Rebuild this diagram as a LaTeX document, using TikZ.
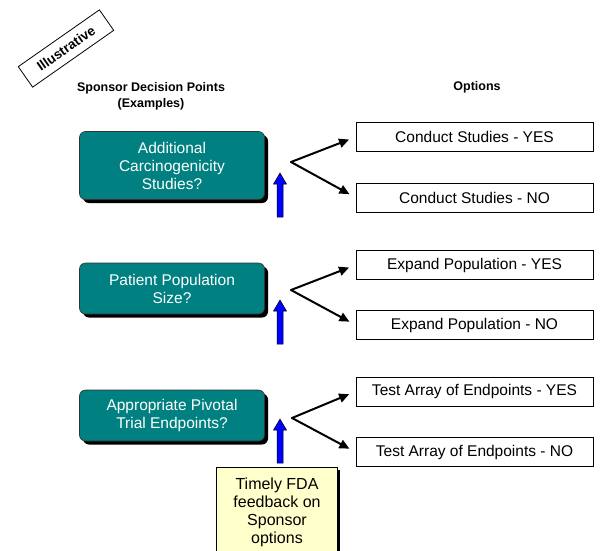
\documentclass[tikz,border=0pt]{standalone}
\usepackage{fontspec}
\setmainfont{Liberation Sans}
\usetikzlibrary{arrows.meta,shadows}
\definecolor{tealbox}{RGB}{0,128,128}
\definecolor{notebg}{RGB}{255,255,204}
\begin{document}
\begin{tikzpicture}[x=1pt,y=-1pt,
  decision/.style={draw=black!80, line width=0.6pt, fill=tealbox, rounded corners=6pt,
    minimum width=185pt, text=white, align=center,
    font=\fontsize{15.5}{18}\selectfont,
    drop shadow={shadow xshift=3.5pt, shadow yshift=-3.5pt, fill=black, opacity=1}},
  option/.style={draw=black, line width=0.8pt, fill=white, minimum width=237pt,
    minimum height=29pt, font=\fontsize{15.5}{18}\selectfont},
  branch/.style={line width=2pt, -{Triangle[length=10pt,width=9pt]}, shorten >=7pt},
  uparrow/.style={draw=black, line width=0.5pt, fill=blue},
  header/.style={font=\bfseries\fontsize{12.5}{15.5}\selectfont, align=center}]
\clip (0,0) rectangle (601,550);
\useasboundingbox (0,0) rectangle (601,550);

% stamp
\node[draw=black, line width=0.8pt, rotate=35, minimum width=99pt, minimum height=25pt,
  font=\bfseries\fontsize{13.5}{15}\selectfont, inner sep=0pt] (stamp) at (66,48.5) {Illustrative};

% column headings
\node[header] (hdecide) at (151,96.5) {Sponsor Decision Points\\(Examples)};
\node[header] (hopt) at (477,87) {Options};

% decision points
\node[decision, minimum height=68pt] (d1) at (172,165.5) {Additional\\Carcinogenicity\\Studies?};
\node[decision, minimum height=51pt] (d2) at (172,288.5) {Patient Population\\Size?};
\node[decision, minimum height=51pt] (d3) at (172,415.5) {Appropriate Pivotal\\Trial Endpoints?};

% options
\node[option] (y1) at (474.5,137) {Conduct Studies - YES};
\node[option] (n1) at (474.5,197.5) {Conduct Studies - NO};
\node[option] (y2) at (474.5,265) {Expand Population - YES};
\node[option] (n2) at (474.5,325) {Expand Population - NO};
\node[option] (y3) at (474.5,391.5) {Test Array of Endpoints - YES};
\node[option] (n3) at (474.5,452) {Test Array of Endpoints - NO};

% branch points
\coordinate (v1) at (291,162);
\coordinate (v2) at (291,290);
\coordinate (v3) at (292,418);
\foreach \v/\a/\b in {v1/y1/n1, v2/y2/n2, v3/y3/n3}{
  \draw[branch, line cap=round, line join=round] (\v) -- (\a.west);
  \draw[branch, line cap=round, line join=round] (\v) -- (\b.west);
}

% upward feedback arrows
\foreach \yb/\yt in {217/173, 344/300, 463/419}{
  \draw[uparrow] (277,\yb) -- (277,\yt+11) -- (273.5,\yt+11) -- (280,\yt) -- (286.5,\yt+11)
    -- (283,\yt+11) -- (283,\yb) -- cycle;
}

% FDA feedback note
\node[draw=black, line width=0.6pt, fill=notebg, anchor=north west, minimum width=121pt,
  minimum height=100pt, drop shadow={shadow xshift=3pt, shadow yshift=-3pt, fill=black, opacity=1}]
  (note) at (216,467) {};
\node[align=center, font=\fontsize{16}{18}\selectfont, anchor=north] (notetext) at (277,474)
  {Timely FDA\\feedback on\\Sponsor\\options};
\end{tikzpicture}
\end{document}
